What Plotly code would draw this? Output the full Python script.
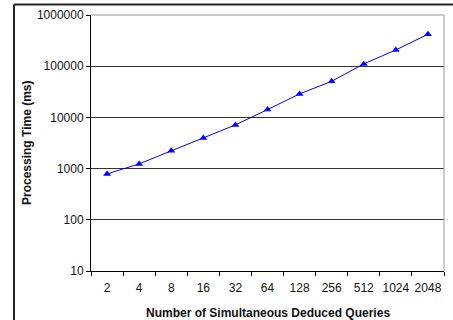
import plotly.graph_objects as go

categories = ["2", "4", "8", "16", "32", "64", "128", "256", "512", "1024", "2048"]
processing_ms = [785, 1235, 2220, 3980, 7130, 14200, 28800, 50700, 111000, 208000, 420000]
y_tick_vals = [10, 100, 1000, 10000, 100000, 1000000]
y_tick_text = ["10", "100", "1000", "10000", "100000", "1000000"]
x_title = "Number of Simultaneous Deduced Queries"
y_title = "Processing Time (ms)"

W, H = 453, 320
L, R, T, B = 91, 9, 15, 49
pw, ph = W - L - R, H - T - B

FONT = "Liberation Sans, Arial, sans-serif"

fig = go.Figure()
fig.add_trace(go.Scatter(
    x=categories, y=processing_ms, mode="lines+markers",
    line=dict(color="#0000FF", width=1),
    marker=dict(symbol="triangle-up", size=7, color="#0000FF"),
    showlegend=False,
))

def px2x(px):
    return (px - L) / pw

def py2y(py):
    return 1 - (py - T) / ph

fig.update_layout(
    width=W, height=H,
    margin=dict(l=L, r=R, t=T, b=B, autoexpand=False),
    paper_bgcolor="white", plot_bgcolor="white",
    font=dict(family=FONT, size=12, color="black"),
    xaxis=dict(
        type="category", range=[-0.5, len(categories) - 0.5],
        showline=True, linecolor="black", linewidth=1,
        ticks="outside", ticklen=4, tickcolor="black", tickson="boundaries",
        showgrid=False, mirror=False, tickangle=0, automargin=False,
        ticklabelstandoff=6,
        tickfont=dict(size=12, family=FONT, color="#111111"),
    ),
    yaxis=dict(
        type="log", range=[1, 6],
        tickvals=y_tick_vals, ticktext=y_tick_text,
        showline=True, linecolor="black", linewidth=1,
        ticks="outside", ticklen=4, tickcolor="black", automargin=False,
        showgrid=True, gridcolor="#333333", gridwidth=1,
        tickfont=dict(size=12, family=FONT, color="#111111"),
        zeroline=False,
    ),
    annotations=[
        dict(text="<b>" + x_title + "</b>", xref="paper", yref="paper",
             x=0.5, y=py2y(313), xanchor="center", yanchor="middle",
             showarrow=False, font=dict(size=12, family=FONT, color="#111111")),
        dict(text="<b>" + y_title + "</b>", xref="paper", yref="paper",
             x=px2x(27), y=0.5, xanchor="center", yanchor="middle", textangle=-90,
             showarrow=False, font=dict(size=12, family=FONT, color="#111111")),
    ],
    shapes=[
        dict(type="line", xref="paper", yref="paper", x0=0, x1=1, y0=1, y1=1,
             line=dict(color="#999999", width=1)),
        dict(type="line", xref="paper", yref="paper", x0=1, x1=1, y0=0, y1=1,
             line=dict(color="#999999", width=1)),
        dict(type="line", xref="paper", yref="paper",
             x0=px2x(14), x1=px2x(460), y0=py2y(4.5), y1=py2y(4.5),
             line=dict(color="#222222", width=2)),
        dict(type="line", xref="paper", yref="paper",
             x0=px2x(14), x1=px2x(14), y0=py2y(4.5), y1=py2y(330),
             line=dict(color="#222222", width=2)),
    ],
)

fig.write_html("out.html", config={"displayModeBar": False},
               post_script="document.body.style.margin='0';document.body.style.overflow='hidden';")
